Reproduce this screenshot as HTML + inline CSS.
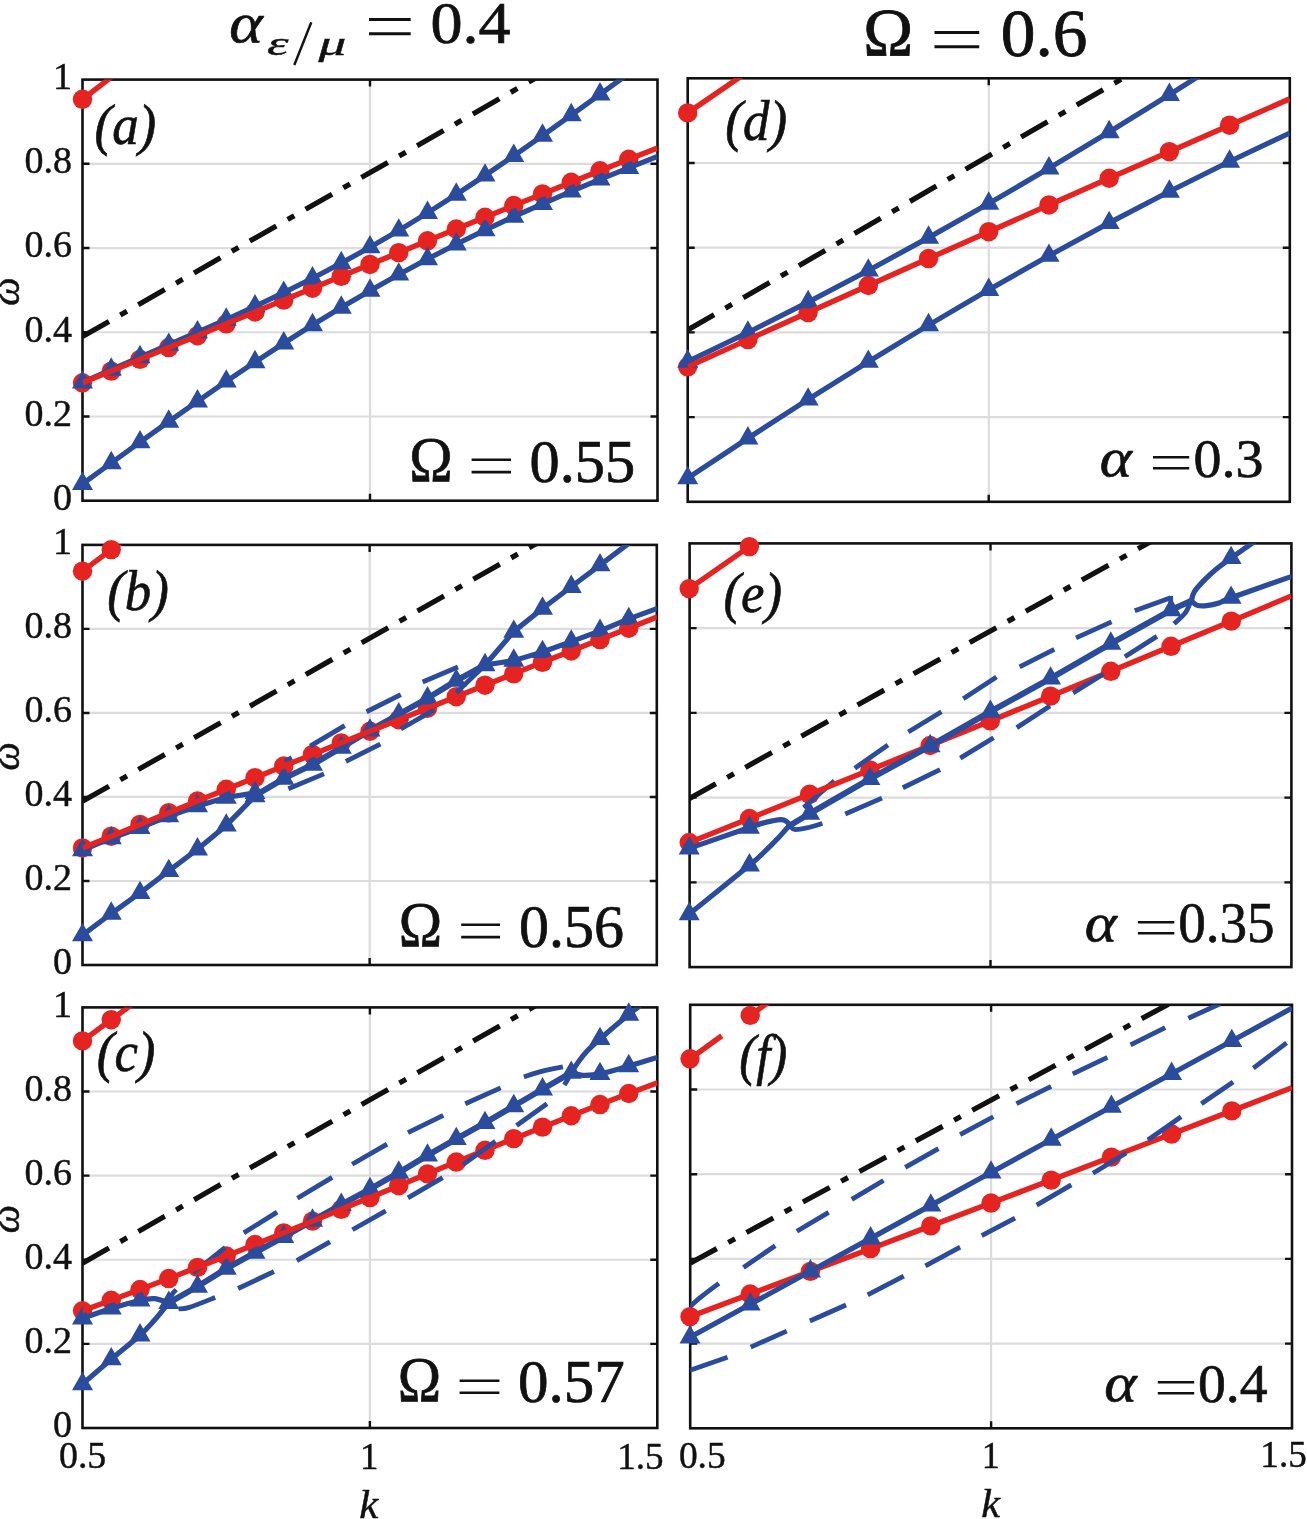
<!DOCTYPE html>
<html lang="en"><head><meta charset="utf-8"><title>Dispersion curves</title>
<style>
html,body{margin:0;padding:0;background:#fff;}
body{width:1307px;height:1519px;overflow:hidden;font-family:"Liberation Serif",serif;}
svg{display:block;}
</style></head><body>
<svg width="1307" height="1519" viewBox="0 0 1307 1519">
<rect width="1307" height="1519" fill="#fff"/>
<defs>
<clipPath id="ca"><rect x="82.5" y="79.6" width="575" height="421.1"/></clipPath>
<clipPath id="cb"><rect x="82.5" y="544.9" width="574.3" height="420.1"/></clipPath>
<clipPath id="cc"><rect x="82.5" y="1007.4" width="574.8" height="420.6"/></clipPath>
<clipPath id="cd"><rect x="687.7" y="78.3" width="602.1" height="423.5"/></clipPath>
<clipPath id="ce"><rect x="689.6" y="543.4" width="601.8" height="423.7"/></clipPath>
<clipPath id="cf"><rect x="690.2" y="1004.8" width="601.8" height="423.5"/></clipPath>
</defs>
<g id="panel-a">
<path d="M82.5 416.48H657.5M82.5 332.26H657.5M82.5 248.04H657.5M82.5 163.82H657.5M370 79.6V500.7" stroke="#dcdcdc" stroke-width="2.2" fill="none"/>
<rect x="82.5" y="79.6" width="575" height="421.1" fill="none" stroke="#111111" stroke-width="2.6"/>
<path d="M82.5 416.48h7M657.5 416.48h-7M82.5 332.26h7M657.5 332.26h-7M82.5 248.04h7M657.5 248.04h-7M82.5 163.82h7M657.5 163.82h-7M370 79.6v7M370 500.7v-7" stroke="#111111" stroke-width="2.4" fill="none"/>
<g clip-path="url(#ca)" fill="none" stroke-linejoin="round">
<path d="M82.5 336.51L542.5 74.23" stroke="#111111" stroke-width="5.2" stroke-dasharray="30.5 13 7.7 13" stroke-dashoffset="0"/>
</g>
<circle cx="82.5" cy="382.82" r="9.7" fill="#e52421"/>
<circle cx="111.25" cy="371.11" r="9.7" fill="#e52421"/>
<circle cx="140" cy="359.35" r="9.7" fill="#e52421"/>
<circle cx="168.75" cy="347.55" r="9.7" fill="#e52421"/>
<circle cx="197.5" cy="335.72" r="9.7" fill="#e52421"/>
<circle cx="226.25" cy="323.86" r="9.7" fill="#e52421"/>
<circle cx="255" cy="311.99" r="9.7" fill="#e52421"/>
<circle cx="283.75" cy="300.11" r="9.7" fill="#e52421"/>
<circle cx="312.5" cy="288.23" r="9.7" fill="#e52421"/>
<circle cx="341.25" cy="276.35" r="9.7" fill="#e52421"/>
<circle cx="370" cy="264.48" r="9.7" fill="#e52421"/>
<circle cx="398.75" cy="252.63" r="9.7" fill="#e52421"/>
<circle cx="427.5" cy="240.8" r="9.7" fill="#e52421"/>
<circle cx="456.25" cy="229.01" r="9.7" fill="#e52421"/>
<circle cx="485" cy="217.25" r="9.7" fill="#e52421"/>
<circle cx="513.75" cy="205.54" r="9.7" fill="#e52421"/>
<circle cx="542.5" cy="193.89" r="9.7" fill="#e52421"/>
<circle cx="571.25" cy="182.29" r="9.7" fill="#e52421"/>
<circle cx="600" cy="170.77" r="9.7" fill="#e52421"/>
<circle cx="628.75" cy="159.31" r="9.7" fill="#e52421"/>
<circle cx="82.5" cy="99.3" r="9.7" fill="#e52421"/>
<g clip-path="url(#ca)" fill="none" stroke="#2b4c9c" stroke-width="5.2" stroke-linejoin="round">
<path d="M82.5 483.85L111.25 463L140 442.22L168.75 421.63L197.5 401.35L226.25 381.47L255 362.09L283.75 343.26L312.5 325.05L341.25 307.5L370 290.64L398.75 274.48L427.5 259.03L456.25 244.27L485 230.18L513.75 216.72L542.5 203.83L571.25 191.44L600 179.47L628.75 167.82L657.5 156.4"/>
<path d="M82.5 382.4L111.25 369.54L140 357.05L168.75 344.69L197.5 332.24L226.25 319.52L255 306.37L283.75 292.65L312.5 278.26L341.25 263.12L370 247.19L398.75 230.44L427.5 212.87L456.25 194.53L485 175.47L513.75 155.78L542.5 135.59L571.25 115.03L600 94.27L628.75 73.53"/>
</g>
<path d="M82.5 471.58L93 489.98L72 489.98ZM111.25 450.73L121.75 469.13L100.75 469.13ZM140 429.95L150.5 448.35L129.5 448.35ZM168.75 409.37L179.25 427.77L158.25 427.77ZM197.5 389.08L208 407.48L187 407.48ZM226.25 369.21L236.75 387.61L215.75 387.61ZM255 349.82L265.5 368.22L244.5 368.22ZM283.75 330.99L294.25 349.39L273.25 349.39ZM312.5 312.78L323 331.18L302 331.18ZM341.25 295.23L351.75 313.63L330.75 313.63ZM370 278.37L380.5 296.77L359.5 296.77ZM398.75 262.21L409.25 280.61L388.25 280.61ZM427.5 246.76L438 265.16L417 265.16ZM456.25 232.01L466.75 250.41L445.75 250.41ZM485 217.91L495.5 236.31L474.5 236.31ZM513.75 204.45L524.25 222.85L503.25 222.85ZM542.5 191.56L553 209.96L532 209.96ZM571.25 179.17L581.75 197.57L560.75 197.57ZM600 167.2L610.5 185.6L589.5 185.6ZM628.75 155.56L639.25 173.96L618.25 173.96ZM82.5 370.13L93 388.53L72 388.53ZM111.25 357.27L121.75 375.67L100.75 375.67ZM140 344.78L150.5 363.18L129.5 363.18ZM168.75 332.42L179.25 350.82L158.25 350.82ZM197.5 319.97L208 338.37L187 338.37ZM226.25 307.25L236.75 325.65L215.75 325.65ZM255 294.1L265.5 312.5L244.5 312.5ZM283.75 280.38L294.25 298.78L273.25 298.78ZM312.5 265.99L323 284.39L302 284.39ZM341.25 250.86L351.75 269.26L330.75 269.26ZM370 234.92L380.5 253.32L359.5 253.32ZM398.75 218.17L409.25 236.57L388.25 236.57ZM427.5 200.61L438 219.01L417 219.01ZM456.25 182.26L466.75 200.66L445.75 200.66ZM485 163.2L495.5 181.6L474.5 181.6ZM513.75 143.52L524.25 161.92L503.25 161.92ZM542.5 123.32L553 141.72L532 141.72ZM571.25 102.76L581.75 121.16L560.75 121.16ZM600 82.01L610.5 100.41L589.5 100.41Z" fill="#2b4c9c"/>
<g clip-path="url(#ca)" fill="none" stroke="#e52421" stroke-width="5.4" stroke-linejoin="round">
<path d="M82.5 382.82L111.25 371.11L140 359.35L168.75 347.55L197.5 335.72L226.25 323.86L255 311.99L283.75 300.11L312.5 288.23L341.25 276.35L370 264.48L398.75 252.63L427.5 240.8L456.25 229.01L485 217.25L513.75 205.54L542.5 193.89L571.25 182.29L600 170.77L628.75 159.31L657.5 147.94"/>
<path d="M82.5 99.3L111.25 77.18"/>
</g>
</g>
<g id="panel-b">
<path d="M82.5 880.98H656.8M82.5 796.96H656.8M82.5 712.94H656.8M82.5 628.92H656.8M369.65 544.9V965" stroke="#dcdcdc" stroke-width="2.2" fill="none"/>
<rect x="82.5" y="544.9" width="574.3" height="420.1" fill="none" stroke="#111111" stroke-width="2.6"/>
<path d="M82.5 880.98h7M656.8 880.98h-7M82.5 796.96h7M656.8 796.96h-7M82.5 712.94h7M656.8 712.94h-7M82.5 628.92h7M656.8 628.92h-7M369.65 544.9v7M369.65 965v-7" stroke="#111111" stroke-width="2.4" fill="none"/>
<g clip-path="url(#cb)" fill="none" stroke-linejoin="round">
<path d="M82.5 801.2L542.5 540.09" stroke="#111111" stroke-width="5.2" stroke-dasharray="30.5 13 7.7 13" stroke-dashoffset="0"/>
</g>
<circle cx="82.5" cy="847.96" r="9.7" fill="#e52421"/>
<circle cx="111.25" cy="836.19" r="9.7" fill="#e52421"/>
<circle cx="140" cy="824.44" r="9.7" fill="#e52421"/>
<circle cx="168.75" cy="812.71" r="9.7" fill="#e52421"/>
<circle cx="197.5" cy="801" r="9.7" fill="#e52421"/>
<circle cx="226.25" cy="789.32" r="9.7" fill="#e52421"/>
<circle cx="255" cy="777.66" r="9.7" fill="#e52421"/>
<circle cx="283.75" cy="766.03" r="9.7" fill="#e52421"/>
<circle cx="312.5" cy="754.42" r="9.7" fill="#e52421"/>
<circle cx="341.25" cy="742.83" r="9.7" fill="#e52421"/>
<circle cx="370" cy="731.26" r="9.7" fill="#e52421"/>
<circle cx="398.75" cy="719.72" r="9.7" fill="#e52421"/>
<circle cx="427.5" cy="708.2" r="9.7" fill="#e52421"/>
<circle cx="456.25" cy="696.7" r="9.7" fill="#e52421"/>
<circle cx="485" cy="685.23" r="9.7" fill="#e52421"/>
<circle cx="513.75" cy="673.78" r="9.7" fill="#e52421"/>
<circle cx="542.5" cy="662.35" r="9.7" fill="#e52421"/>
<circle cx="571.25" cy="650.95" r="9.7" fill="#e52421"/>
<circle cx="600" cy="639.57" r="9.7" fill="#e52421"/>
<circle cx="628.75" cy="628.21" r="9.7" fill="#e52421"/>
<circle cx="82.5" cy="571.21" r="9.7" fill="#e52421"/>
<circle cx="111.25" cy="549.62" r="9.7" fill="#e52421"/>
<g clip-path="url(#cb)" fill="none" stroke="#2b4c9c" stroke-width="4.8">
<path d="M284.9 761.72L291.8 757.69"/>
<path d="M310.2 746.18L344.7 725.6"/>
<path d="M366.55 711.74L400.82 694.52"/>
<path d="M422.61 681.92L457.98 667.01"/>
</g>
<g clip-path="url(#cb)" fill="none" stroke="#2b4c9c" stroke-width="5.2" stroke-linejoin="round">
<path d="M82.5 850.21L111.25 838.2L140 827.79L168.75 816.19L197.5 806.11L226.25 797.5L255 792.88"/>
<path d="M82.5 935.18L111.25 913.51L140 892.97L168.75 870.92L197.5 849.25L226.25 825.39L255 795.99"/>
<path d="M255 795.74L283.75 778.6L312.5 764.66L341.25 747.61L370 730.43L398.75 714.26L427.5 698.3L456.25 680.66L485 664.99" stroke-width="6"/>
<path d="M485 664.99L513.75 631.65L542.5 608.5L571.25 586.75L600 565.16L628.75 543.32"/>
<path d="M485 664.99L513.75 660.63L542.5 651.93L571.25 641.6L600 630.81L628.75 618.92L657.5 608.42"/>
</g>
<path d="M82.5 837.95L93 856.35L72 856.35ZM111.25 825.94L121.75 844.34L100.75 844.34ZM140 815.52L150.5 833.92L129.5 833.92ZM168.75 803.93L179.25 822.33L158.25 822.33ZM197.5 793.85L208 812.25L187 812.25ZM226.25 785.24L236.75 803.64L215.75 803.64ZM255 780.62L265.5 799.02L244.5 799.02ZM82.5 922.91L93 941.31L72 941.31ZM111.25 901.24L121.75 919.64L100.75 919.64ZM140 880.7L150.5 899.1L129.5 899.1ZM168.75 858.65L179.25 877.05L158.25 877.05ZM197.5 836.98L208 855.38L187 855.38ZM226.25 813.13L236.75 831.53L215.75 831.53ZM255 783.73L265.5 802.13L244.5 802.13ZM283.75 766.34L294.25 784.74L273.25 784.74ZM312.5 752.39L323 770.79L302 770.79ZM341.25 735.34L351.75 753.74L330.75 753.74ZM370 718.16L380.5 736.56L359.5 736.56ZM398.75 701.99L409.25 720.39L388.25 720.39ZM427.5 686.03L438 704.43L417 704.43ZM456.25 668.39L466.75 686.79L445.75 686.79ZM485 652.73L495.5 671.13L474.5 671.13ZM513.75 619.38L524.25 637.78L503.25 637.78ZM542.5 596.24L553 614.64L532 614.64ZM571.25 574.48L581.75 592.88L560.75 592.88ZM600 552.89L610.5 571.29L589.5 571.29ZM513.75 648.36L524.25 666.76L503.25 666.76ZM542.5 639.67L553 658.07L532 658.07ZM571.25 629.33L581.75 647.73L560.75 647.73ZM600 618.54L610.5 636.94L589.5 636.94ZM628.75 606.65L639.25 625.05L618.25 625.05Z" fill="#2b4c9c"/>
<g clip-path="url(#cb)" fill="none" stroke="#e52421" stroke-width="5.4" stroke-linejoin="round">
<path d="M82.5 847.96L111.25 836.19L140 824.44L168.75 812.71L197.5 801L226.25 789.32L255 777.66L283.75 766.03L312.5 754.42L341.25 742.83L370 731.26L398.75 719.72L427.5 708.2L456.25 696.7L485 685.23L513.75 673.78L542.5 662.35L571.25 650.95L600 639.57L628.75 628.21L657.5 616.88"/>
<path d="M82.5 571.21L111.25 549.62L140 528.2"/>
</g>
<g clip-path="url(#cb)" fill="none" stroke="#2b4c9c" stroke-width="4.8">
<path d="M288.35 788.68L324 773.9"/>
<path d="M345.85 761.3L380.35 744.08"/>
<path d="M400.82 728.96L434.11 709.85"/>
<path d="M456.25 692.84L485 664.99"/>
</g>
</g>
<g id="panel-c">
<path d="M82.5 1343.88H657.3M82.5 1259.76H657.3M82.5 1175.64H657.3M82.5 1091.52H657.3M369.9 1007.4V1428" stroke="#dcdcdc" stroke-width="2.2" fill="none"/>
<rect x="82.5" y="1007.4" width="574.8" height="420.6" fill="none" stroke="#111111" stroke-width="2.6"/>
<path d="M82.5 1343.88h7M657.3 1343.88h-7M82.5 1259.76h7M657.3 1259.76h-7M82.5 1175.64h7M657.3 1175.64h-7M82.5 1091.52h7M657.3 1091.52h-7M369.9 1007.4v7M369.9 1428v-7" stroke="#111111" stroke-width="2.4" fill="none"/>
<g clip-path="url(#cc)" fill="none" stroke-linejoin="round">
<path d="M82.5 1263.12L542.5 1001.72" stroke="#111111" stroke-width="5.2" stroke-dasharray="30.5 13 7.7 13" stroke-dashoffset="0"/>
</g>
<circle cx="82.5" cy="1310.8" r="9.7" fill="#e52421"/>
<circle cx="111.25" cy="1300.29" r="9.7" fill="#e52421"/>
<circle cx="140" cy="1289.53" r="9.7" fill="#e52421"/>
<circle cx="168.75" cy="1278.55" r="9.7" fill="#e52421"/>
<circle cx="197.5" cy="1267.36" r="9.7" fill="#e52421"/>
<circle cx="226.25" cy="1256" r="9.7" fill="#e52421"/>
<circle cx="255" cy="1244.5" r="9.7" fill="#e52421"/>
<circle cx="283.75" cy="1232.87" r="9.7" fill="#e52421"/>
<circle cx="312.5" cy="1221.15" r="9.7" fill="#e52421"/>
<circle cx="341.25" cy="1209.36" r="9.7" fill="#e52421"/>
<circle cx="370" cy="1197.53" r="9.7" fill="#e52421"/>
<circle cx="398.75" cy="1185.69" r="9.7" fill="#e52421"/>
<circle cx="427.5" cy="1173.85" r="9.7" fill="#e52421"/>
<circle cx="456.25" cy="1162.05" r="9.7" fill="#e52421"/>
<circle cx="485" cy="1150.32" r="9.7" fill="#e52421"/>
<circle cx="513.75" cy="1138.67" r="9.7" fill="#e52421"/>
<circle cx="542.5" cy="1127.14" r="9.7" fill="#e52421"/>
<circle cx="571.25" cy="1115.75" r="9.7" fill="#e52421"/>
<circle cx="600" cy="1104.53" r="9.7" fill="#e52421"/>
<circle cx="628.75" cy="1093.51" r="9.7" fill="#e52421"/>
<circle cx="82.5" cy="1040.88" r="9.7" fill="#e52421"/>
<circle cx="111.25" cy="1019.72" r="9.7" fill="#e52421"/>
<g clip-path="url(#cc)" fill="none" stroke="#2b4c9c" stroke-width="4.8">
<path d="M168.75 1302.87C169.32 1301.43 170.95 1296.46 172.2 1294.25C173.45 1292.04 175.55 1290.39 176.23 1289.62"/>
<path d="M193.19 1272.8L225.33 1247.48"/>
<path d="M243.79 1232.84L277.14 1212.15"/>
<path d="M297.38 1198.31L332.17 1177.41"/>
<path d="M352.18 1164.28L387.08 1144.1"/>
<path d="M407.95 1132.7L443.25 1115.33"/>
<path d="M465.28 1103.72L500.64 1087.82"/>
<path d="M523.81 1076.8C526.93 1075.85 535.98 1072.76 542.5 1071.12C549.02 1069.48 559.51 1067.65 562.91 1066.96"/>
</g>
<g clip-path="url(#cc)" fill="none" stroke="#2b4c9c" stroke-width="5.2" stroke-linejoin="round">
<path d="M82.5 1318.35C87.29 1316.7 101.67 1311.41 111.25 1308.42C120.83 1305.44 132.81 1302.06 140 1300.43C147.19 1298.81 149.58 1298.26 154.38 1298.67C159.17 1299.07 166.35 1302.17 168.75 1302.87"/>
<path d="M82.5 1384.01C87.29 1379.86 101.67 1367.27 111.25 1359.15C120.83 1351.02 132.81 1341.73 140 1335.26C147.19 1328.79 149.58 1325.72 154.38 1320.33C159.17 1314.93 166.35 1305.78 168.75 1302.87"/>
<path d="M168.75 1302.87L197.5 1286.51L226.25 1268.59L255 1252.69L283.75 1236.8L312.5 1220.6L341.25 1204.66L370 1189.02L398.75 1172.53L427.5 1155.45L456.25 1138.92L485 1122.94L513.75 1106.03L542.5 1089.25L571.25 1072.72" stroke-width="6"/>
<path d="M571.25 1072.72C572.51 1070.81 576.16 1064.89 578.84 1061.24C581.52 1057.58 583.82 1054.52 587.35 1050.81C590.88 1047.09 593.1 1044.99 600 1038.94C606.9 1032.9 622.04 1020.09 628.75 1014.55C635.46 1009.01 638.33 1007.19 640.25 1005.72"/>
<path d="M571.25 1072.72C573.17 1073.15 577.96 1075.13 582.75 1075.33C587.54 1075.52 592.33 1075.44 600 1073.9C607.67 1072.35 619.17 1068.83 628.75 1066.07C638.33 1063.32 652.71 1058.82 657.5 1057.37"/>
</g>
<path d="M82.5 1306.08L93 1324.48L72 1324.48ZM111.25 1296.16L121.75 1314.56L100.75 1314.56ZM140 1288.17L150.5 1306.57L129.5 1306.57ZM82.5 1371.74L93 1390.14L72 1390.14ZM111.25 1346.88L121.75 1365.28L100.75 1365.28ZM140 1322.99L150.5 1341.39L129.5 1341.39ZM168.75 1290.6L179.25 1309L158.25 1309ZM197.5 1274.24L208 1292.64L187 1292.64ZM226.25 1256.33L236.75 1274.73L215.75 1274.73ZM255 1240.43L265.5 1258.83L244.5 1258.83ZM283.75 1224.53L294.25 1242.93L273.25 1242.93ZM312.5 1208.34L323 1226.74L302 1226.74ZM341.25 1192.39L351.75 1210.79L330.75 1210.79ZM370 1176.75L380.5 1195.15L359.5 1195.15ZM398.75 1160.26L409.25 1178.66L388.25 1178.66ZM427.5 1143.18L438 1161.58L417 1161.58ZM456.25 1126.65L466.75 1145.05L445.75 1145.05ZM485 1110.67L495.5 1129.07L474.5 1129.07ZM513.75 1093.76L524.25 1112.16L503.25 1112.16ZM542.5 1076.98L553 1095.38L532 1095.38ZM571.25 1060.45L581.75 1078.85L560.75 1078.85ZM600 1026.68L610.5 1045.08L589.5 1045.08ZM628.75 1002.28L639.25 1020.68L618.25 1020.68ZM600 1061.63L610.5 1080.03L589.5 1080.03ZM628.75 1053.81L639.25 1072.21L618.25 1072.21Z" fill="#2b4c9c"/>
<g clip-path="url(#cc)" fill="none" stroke="#e52421" stroke-width="5.4" stroke-linejoin="round">
<path d="M82.5 1310.8L111.25 1300.29L140 1289.53L168.75 1278.55L197.5 1267.36L226.25 1256L255 1244.5L283.75 1232.87L312.5 1221.15L341.25 1209.36L370 1197.53L398.75 1185.69L427.5 1173.85L456.25 1162.05L485 1150.32L513.75 1138.67L542.5 1127.14L571.25 1115.75L600 1104.53L628.75 1093.51L657.5 1082.71"/>
<path d="M82.5 1040.88L111.25 1019.72L140 998.57"/>
</g>
<g clip-path="url(#cc)" fill="none" stroke="#2b4c9c" stroke-width="4.8">
<path d="M178.41 1308.97C180.23 1308.71 183.2 1309.33 189.33 1307.41C195.47 1305.5 210.9 1299.14 215.21 1297.49"/>
<path d="M238.09 1288.49L273.92 1271.58"/>
<path d="M296.8 1260.69L329.98 1241.8"/>
<path d="M352.46 1229.73L385.76 1210.89"/>
<path d="M407.95 1197.89L442.68 1177.62"/>
<path d="M462.98 1164.58L495.46 1141.32"/>
<path d="M516.57 1125.46L546.99 1103.72"/>
<path d="M564.35 1084.92L571.6 1072.72"/>
</g>
</g>
<g id="panel-d">
<path d="M687.7 417.1H1289.8M687.7 332.4H1289.8M687.7 247.7H1289.8M687.7 163H1289.8M988.75 78.3V501.8" stroke="#dcdcdc" stroke-width="2.2" fill="none"/>
<rect x="687.7" y="78.3" width="602.1" height="423.5" fill="none" stroke="#111111" stroke-width="2.6"/>
<path d="M687.7 417.1h7M1289.8 417.1h-7M687.7 332.4h7M1289.8 332.4h-7M687.7 247.7h7M1289.8 247.7h-7M687.7 163h7M1289.8 163h-7M988.75 78.3v7M988.75 501.8v-7" stroke="#111111" stroke-width="2.4" fill="none"/>
<g clip-path="url(#cd)" fill="none" stroke-linejoin="round">
<path d="M687.7 329.93L1139.28 68.79" stroke="#111111" stroke-width="5.2" stroke-dasharray="30.5 13 7.7 13" stroke-dashoffset="0"/>
</g>
<circle cx="687.7" cy="366.83" r="9.7" fill="#e52421"/>
<circle cx="747.91" cy="339.63" r="9.7" fill="#e52421"/>
<circle cx="808.12" cy="312.52" r="9.7" fill="#e52421"/>
<circle cx="868.33" cy="285.49" r="9.7" fill="#e52421"/>
<circle cx="928.54" cy="258.55" r="9.7" fill="#e52421"/>
<circle cx="988.75" cy="231.7" r="9.7" fill="#e52421"/>
<circle cx="1048.96" cy="204.94" r="9.7" fill="#e52421"/>
<circle cx="1109.17" cy="178.26" r="9.7" fill="#e52421"/>
<circle cx="1169.38" cy="151.68" r="9.7" fill="#e52421"/>
<circle cx="1229.59" cy="125.18" r="9.7" fill="#e52421"/>
<circle cx="687.7" cy="112.91" r="9.7" fill="#e52421"/>
<g clip-path="url(#cd)" fill="none" stroke="#2b4c9c" stroke-width="5.2" stroke-linejoin="round">
<path d="M687.7 478.16L747.91 438.27L808.12 399.43L868.33 361.69L928.54 325.12L988.75 289.76L1048.96 255.67L1109.17 222.9L1169.38 191.5L1229.59 161.53L1289.8 133.05"/>
<path d="M687.7 361.54L747.91 332.49L808.12 302.12L868.33 270.47L928.54 237.6L988.75 203.54L1048.96 168.36L1109.17 132.09L1169.38 94.8L1229.59 56.52"/>
</g>
<path d="M687.7 465.9L698.2 484.3L677.2 484.3ZM747.91 426L758.41 444.4L737.41 444.4ZM808.12 387.16L818.62 405.56L797.62 405.56ZM868.33 349.43L878.83 367.83L857.83 367.83ZM928.54 312.85L939.04 331.25L918.04 331.25ZM988.75 277.49L999.25 295.89L978.25 295.89ZM1048.96 243.4L1059.46 261.8L1038.46 261.8ZM1109.17 210.63L1119.67 229.03L1098.67 229.03ZM1169.38 179.23L1179.88 197.63L1158.88 197.63ZM1229.59 149.27L1240.09 167.67L1219.09 167.67ZM687.7 349.27L698.2 367.67L677.2 367.67ZM747.91 320.23L758.41 338.63L737.41 338.63ZM808.12 289.85L818.62 308.25L797.62 308.25ZM868.33 258.21L878.83 276.61L857.83 276.61ZM928.54 225.33L939.04 243.73L918.04 243.73ZM988.75 191.27L999.25 209.67L978.25 209.67ZM1048.96 156.09L1059.46 174.49L1038.46 174.49ZM1109.17 119.83L1119.67 138.23L1098.67 138.23ZM1169.38 82.53L1179.88 100.93L1158.88 100.93Z" fill="#2b4c9c"/>
<g clip-path="url(#cd)" fill="none" stroke="#e52421" stroke-width="5.4" stroke-linejoin="round">
<path d="M687.7 366.83L747.91 339.63L808.12 312.52L868.33 285.49L928.54 258.55L988.75 231.7L1048.96 204.94L1109.17 178.26L1169.38 151.68L1229.59 125.18L1289.8 98.77"/>
<path d="M687.7 112.91L747.91 71.61"/>
</g>
</g>
<g id="panel-e">
<path d="M689.6 882.36H1291.4M689.6 797.62H1291.4M689.6 712.88H1291.4M689.6 628.14H1291.4M990.5 543.4V967.1" stroke="#dcdcdc" stroke-width="2.2" fill="none"/>
<rect x="689.6" y="543.4" width="601.8" height="423.7" fill="none" stroke="#111111" stroke-width="2.6"/>
<path d="M689.6 882.36h7M1291.4 882.36h-7M689.6 797.62h7M1291.4 797.62h-7M689.6 712.88h7M1291.4 712.88h-7M689.6 628.14h7M1291.4 628.14h-7M990.5 543.4v7M990.5 967.1v-7" stroke="#111111" stroke-width="2.4" fill="none"/>
<g clip-path="url(#ce)" fill="none" stroke-linejoin="round">
<path d="M689.2 798.62L1171.04 530.44" stroke="#111111" stroke-width="5.2" stroke-dasharray="30.5 13 7.7 13" stroke-dashoffset="0"/>
</g>
<circle cx="689.2" cy="842.55" r="9.7" fill="#e52421"/>
<circle cx="749.43" cy="818.49" r="9.7" fill="#e52421"/>
<circle cx="809.66" cy="794.29" r="9.7" fill="#e52421"/>
<circle cx="869.89" cy="769.96" r="9.7" fill="#e52421"/>
<circle cx="930.12" cy="745.5" r="9.7" fill="#e52421"/>
<circle cx="990.35" cy="720.9" r="9.7" fill="#e52421"/>
<circle cx="1050.58" cy="696.16" r="9.7" fill="#e52421"/>
<circle cx="1110.81" cy="671.29" r="9.7" fill="#e52421"/>
<circle cx="1171.04" cy="646.29" r="9.7" fill="#e52421"/>
<circle cx="1231.27" cy="621.15" r="9.7" fill="#e52421"/>
<circle cx="689.2" cy="588.61" r="9.7" fill="#e52421"/>
<circle cx="749.43" cy="546.59" r="9.7" fill="#e52421"/>
<g clip-path="url(#ce)" fill="none" stroke="#2b4c9c" stroke-width="4.8">
<path d="M803.64 807.57L834.35 780.78"/>
<path d="M854.83 768.21L887.96 744.99"/>
<path d="M908.26 731.99L941.5 711.68"/>
<path d="M963.25 698.64L996.49 676.89"/>
<path d="M1019.62 666.8L1054.31 649.43"/>
<path d="M1076 637.82L1111.53 621.88"/>
<path d="M1134.78 610.69L1170.74 597.7"/>
<path d="M1170.74 596.01L1170.74 609.89"/>
</g>
<g clip-path="url(#ce)" fill="none" stroke="#e52421" stroke-width="5.4" stroke-linejoin="round">
<path d="M689.2 842.55L749.43 818.49L809.66 794.29L869.89 769.96L930.12 745.5L990.35 720.9L1050.58 696.16L1110.81 671.29L1171.04 646.29L1231.27 621.15L1291.5 595.87"/>
<path d="M689.2 588.61L749.43 546.59L809.66 506.85"/>
</g>
<g clip-path="url(#ce)" fill="none" stroke="#2b4c9c" stroke-width="5.2" stroke-linejoin="round">
<path d="M689.2 848.37C699.24 844.9 736.82 831.81 749.43 827.51C762.04 823.21 759.64 823.92 764.85 822.59C770.06 821.27 777.05 819.73 780.69 819.56C784.33 819.39 785.2 820.59 786.71 821.58C788.23 822.58 789.27 824.88 789.78 825.53"/>
<path d="M689.2 914.07C699.24 905.95 736.82 875.77 749.43 865.32C762.04 854.88 759.97 856.04 764.85 851.4C769.73 846.76 775.06 841.29 778.7 837.48C782.35 833.67 784.87 830.51 786.71 828.52C788.56 826.53 789.27 826.03 789.78 825.53"/>
<path d="M789.78 825.53L809.66 813.59L869.89 778.81L930.12 746L990.35 711.68L1050.58 678.41L1110.81 643.63L1171.04 610.02L1191.34 600.81" stroke-width="6"/>
<path d="M1191.34 600.81C1191.85 599.27 1192.37 594.92 1194.41 591.6C1196.45 588.27 1200 584.57 1203.56 580.87C1207.13 577.17 1211.2 573.2 1215.79 569.39C1220.38 565.58 1225.37 562.11 1231.09 557.99C1236.81 553.88 1245.07 548.32 1250.12 544.7C1255.17 541.08 1259.51 537.69 1261.38 536.29"/>
<path d="M1191.34 600.81C1192.35 601.57 1194.88 604.58 1197.42 605.39C1199.96 606.21 1203 606.07 1206.58 605.69C1210.15 605.3 1214.78 604.41 1218.86 603.08C1222.95 601.75 1219.28 602.03 1231.09 597.7C1242.89 593.36 1278.62 580.98 1289.69 577.09C1300.77 573.19 1296.22 574.77 1297.52 574.31"/>
</g>
<path d="M689.2 836.11L699.7 854.51L678.7 854.51ZM749.43 815.24L759.93 833.64L738.93 833.64ZM689.2 901.8L699.7 920.2L678.7 920.2ZM749.43 853.06L759.93 871.46L738.93 871.46ZM809.66 801.32L820.16 819.72L799.16 819.72ZM869.89 766.54L880.39 784.94L859.39 784.94ZM930.12 733.73L940.62 752.13L919.62 752.13ZM990.35 699.41L1000.85 717.81L979.85 717.81ZM1050.58 666.14L1061.08 684.54L1040.08 684.54ZM1110.81 631.36L1121.31 649.76L1100.31 649.76ZM1171.04 597.75L1181.54 616.15L1160.54 616.15ZM1231.09 545.72L1241.59 564.12L1220.59 564.12ZM1231.09 585.43L1241.59 603.83L1220.59 603.83Z" fill="#2b4c9c"/>
<g clip-path="url(#ce)" fill="none" stroke="#2b4c9c" stroke-width="4.8">
<path d="M789.78 825.53C790.59 826.19 791.79 829.08 794.6 829.49C797.41 829.89 802.01 828.96 806.65 827.97C811.29 826.99 819.8 824.29 822.43 823.56"/>
<path d="M845.26 814.01L881.94 798.11"/>
<path d="M902.84 787.72L940.06 769.59"/>
<path d="M960.24 758.11L993.6 737.8"/>
<path d="M1016.73 727.62L1049.98 705.92"/>
<path d="M1073.11 692.88L1103.46 673.99"/>
<path d="M1124.84 656.66L1156.95 636.39"/>
<path d="M1174.05 623.77C1175.91 621.98 1182.57 616.32 1185.19 613.01C1187.81 609.69 1188.75 605.91 1189.77 603.88C1190.8 601.85 1191.08 601.32 1191.34 600.81"/>
</g>
</g>
<g id="panel-f">
<path d="M690.2 1343.6H1292M690.2 1258.9H1292M690.2 1174.2H1292M690.2 1089.5H1292M991.1 1004.8V1428.3" stroke="#dcdcdc" stroke-width="2.2" fill="none"/>
<rect x="690.2" y="1004.8" width="601.8" height="423.5" fill="none" stroke="#111111" stroke-width="2.6"/>
<path d="M690.2 1343.6h7M1292 1343.6h-7M690.2 1258.9h7M1292 1258.9h-7M690.2 1174.2h7M1292 1174.2h-7M690.2 1089.5h7M1292 1089.5h-7M991.1 1004.8v7M991.1 1428.3v-7" stroke="#111111" stroke-width="2.4" fill="none"/>
<g clip-path="url(#cf)" fill="none" stroke-linejoin="round">
<path d="M690 1263.12L1171.6 1002.44" stroke="#111111" stroke-width="5.2" stroke-dasharray="30.5 13 7.7 13" stroke-dashoffset="0"/>
</g>
<circle cx="690" cy="1316.62" r="9.7" fill="#e52421"/>
<circle cx="750.2" cy="1294.04" r="9.7" fill="#e52421"/>
<circle cx="810.4" cy="1271.39" r="9.7" fill="#e52421"/>
<circle cx="870.6" cy="1248.67" r="9.7" fill="#e52421"/>
<circle cx="930.8" cy="1225.88" r="9.7" fill="#e52421"/>
<circle cx="991" cy="1203.03" r="9.7" fill="#e52421"/>
<circle cx="1051.2" cy="1180.1" r="9.7" fill="#e52421"/>
<circle cx="1111.4" cy="1157.1" r="9.7" fill="#e52421"/>
<circle cx="1171.6" cy="1134.03" r="9.7" fill="#e52421"/>
<circle cx="1231.8" cy="1110.89" r="9.7" fill="#e52421"/>
<circle cx="690" cy="1058.8" r="9.7" fill="#e52421"/>
<circle cx="750.2" cy="1015.39" r="9.7" fill="#e52421"/>
<g clip-path="url(#cf)" fill="none" stroke="#2b4c9c" stroke-width="4.8">
<path d="M690 1306.49C692.01 1304.76 697.22 1300 702.04 1296.14C706.86 1292.28 716.09 1285.45 718.9 1283.31"/>
<path d="M743.46 1267.41L775.24 1245.67"/>
<path d="M796.86 1231.2L828.64 1212.36"/>
<path d="M851.76 1199.32L883.54 1180.52"/>
<path d="M905.22 1167.44L938.45 1148.64"/>
<path d="M960.12 1134.72L993.35 1116.76"/>
<path d="M1016.46 1103.72L1051.14 1086.35"/>
<path d="M1072.75 1073.9L1107.43 1057.41"/>
<path d="M1130.54 1044.92L1165.22 1027.55"/>
<path d="M1188.34 1018.29L1220.12 1003.78"/>
</g>
<g clip-path="url(#cf)" fill="none" stroke="#e52421" stroke-width="5.4" stroke-linejoin="round">
<path d="M690 1316.62L750.2 1294.04L810.4 1271.39L870.6 1248.67L930.8 1225.88L991 1203.03L1051.2 1180.1L1111.4 1157.1L1171.6 1134.03L1231.8 1110.89L1292 1087.69"/>
<path d="M690 1058.8L721.79 1035.71"/>
<path d="M750.2 1015.39L774.28 998.06"/>
</g>
<g clip-path="url(#cf)" fill="none" stroke="#2b4c9c" stroke-width="5.2" stroke-linejoin="round">
<path d="M690 1337.34L750.2 1304.33L810.4 1271.33L870.6 1238.36L930.8 1205.4L991 1172.47L1051.2 1139.55L1111.4 1106.66L1171.6 1073.78L1231.8 1040.92L1292 1008.09"/>
</g>
<path d="M690 1325.07L700.5 1343.47L679.5 1343.47ZM750.2 1292.06L760.7 1310.46L739.7 1310.46ZM810.4 1259.07L820.9 1277.47L799.9 1277.47ZM870.6 1226.09L881.1 1244.49L860.1 1244.49ZM930.8 1193.14L941.3 1211.54L920.3 1211.54ZM991 1160.2L1001.5 1178.6L980.5 1178.6ZM1051.2 1127.29L1061.7 1145.69L1040.7 1145.69ZM1111.4 1094.39L1121.9 1112.79L1100.9 1112.79ZM1171.6 1061.51L1182.1 1079.91L1161.1 1079.91ZM1231.8 1028.66L1242.3 1047.06L1221.3 1047.06Z" fill="#2b4c9c"/>
<g clip-path="url(#cf)" fill="none" stroke="#2b4c9c" stroke-width="4.8">
<path d="M690 1370.25L727.56 1357.21"/>
<path d="M750.68 1347.08L786.74 1331.14"/>
<path d="M809.86 1321L845.98 1305.06"/>
<path d="M867.65 1294.92L903.77 1276.08"/>
<path d="M925.44 1265.94L960.12 1247.14"/>
<path d="M981.73 1235.53L1015.02 1218.16"/>
<path d="M1036.69 1205.12L1071.31 1184.85"/>
<path d="M1092.98 1173.24L1126.21 1152.97"/>
<path d="M1147.88 1139.93L1181.11 1116.76"/>
<path d="M1201.34 1103.72L1233.12 1082.01"/>
<path d="M1253.35 1068.09L1286.58 1042.9"/>
</g>
</g>
<g font-family="'Liberation Serif', serif" fill="#111" stroke="#111" opacity="0.999">
<text x="71.9" y="510" font-size="38" stroke-width="0.46" text-anchor="end">0</text>
<text x="71.9" y="425.78" font-size="38" stroke-width="0.46" text-anchor="end">0.2</text>
<text x="71.9" y="341.56" font-size="38" stroke-width="0.46" text-anchor="end">0.4</text>
<text x="71.9" y="257.34" font-size="38" stroke-width="0.46" text-anchor="end">0.6</text>
<text x="71.9" y="173.12" font-size="38" stroke-width="0.46" text-anchor="end">0.8</text>
<text x="71.9" y="88.9" font-size="38" stroke-width="0.46" text-anchor="end">1</text>
<text x="19.2" y="291.65" font-size="40" stroke-width="0.48" font-style="italic" text-anchor="middle" transform="rotate(-90 19.2 291.65)">&#969;</text>
<text x="71.9" y="974.3" font-size="38" stroke-width="0.46" text-anchor="end">0</text>
<text x="71.9" y="890.28" font-size="38" stroke-width="0.46" text-anchor="end">0.2</text>
<text x="71.9" y="806.26" font-size="38" stroke-width="0.46" text-anchor="end">0.4</text>
<text x="71.9" y="722.24" font-size="38" stroke-width="0.46" text-anchor="end">0.6</text>
<text x="71.9" y="638.22" font-size="38" stroke-width="0.46" text-anchor="end">0.8</text>
<text x="71.9" y="554.2" font-size="38" stroke-width="0.46" text-anchor="end">1</text>
<text x="19.2" y="756.45" font-size="40" stroke-width="0.48" font-style="italic" text-anchor="middle" transform="rotate(-90 19.2 756.45)">&#969;</text>
<text x="71.9" y="1437.3" font-size="38" stroke-width="0.46" text-anchor="end">0</text>
<text x="71.9" y="1353.18" font-size="38" stroke-width="0.46" text-anchor="end">0.2</text>
<text x="71.9" y="1269.06" font-size="38" stroke-width="0.46" text-anchor="end">0.4</text>
<text x="71.9" y="1184.94" font-size="38" stroke-width="0.46" text-anchor="end">0.6</text>
<text x="71.9" y="1100.82" font-size="38" stroke-width="0.46" text-anchor="end">0.8</text>
<text x="71.9" y="1016.7" font-size="38" stroke-width="0.46" text-anchor="end">1</text>
<text x="19.2" y="1219.2" font-size="40" stroke-width="0.48" font-style="italic" text-anchor="middle" transform="rotate(-90 19.2 1219.2)">&#969;</text>
<text x="0" y="0" font-size="37.5" stroke-width="0.45" transform="translate(58.98 1468.40) scale(1.0098 1)">0.5</text>
<text x="0" y="0" font-size="37.5" stroke-width="0.45" transform="translate(359.97 1468.60) scale(0.9835 1)">1</text>
<text x="0" y="0" font-size="37.5" stroke-width="0.45" transform="translate(617.15 1468.60) scale(0.9906 1)">1.5</text>
<text x="0" y="0" font-size="37.5" stroke-width="0.45" transform="translate(678.90 1467.60) scale(0.9984 1)">0.5</text>
<text x="0" y="0" font-size="37.5" stroke-width="0.45" transform="translate(981.82 1467.60) scale(0.9683 1)">1</text>
<text x="0" y="0" font-size="37.5" stroke-width="0.45" transform="translate(1260.35 1467.00) scale(0.9906 1)">1.5</text>
<text x="0" y="0" font-size="39.71" stroke-width="0.48" font-style="italic" transform="translate(359.32 1517.60) scale(1.0779 1)">k</text>
<text x="0" y="0" font-size="39.42" stroke-width="0.47" font-style="italic" transform="translate(981.33 1516.60) scale(1.0739 1)">k</text>
<text x="0" y="0" font-size="56.42" stroke-width="0.68" font-style="italic" transform="translate(94.55 143.61) scale(0.9378 1)">(a)</text>
<text x="0" y="0" font-size="57.3" stroke-width="0.69" font-style="italic" transform="translate(107.25 609.62) scale(0.9202 1)">(b)</text>
<text x="0" y="0" font-size="57.41" stroke-width="0.69" font-style="italic" transform="translate(96.85 1070.70) scale(0.9184 1)">(c)</text>
<text x="0" y="0" font-size="57.52" stroke-width="0.69" font-style="italic" transform="translate(725.35 139.78) scale(0.9198 1)">(d)</text>
<text x="0" y="0" font-size="57.41" stroke-width="0.69" font-style="italic" transform="translate(723.45 611.60) scale(0.9184 1)">(e)</text>
<text x="0" y="0" font-size="56.57" stroke-width="0.68" font-style="italic" transform="translate(739.22 1073.78) scale(0.9005 1)">(f)</text>
<text x="0" y="0" font-size="57.78" stroke-width="0.69" font-style="italic" transform="translate(229.28 41.90) scale(1.1077 1)">&#945;</text>
<text x="0" y="0" font-size="33.62" stroke-width="0.4" font-style="italic" transform="translate(267.11 54.80) scale(1.6211 1)">&#949;</text>
<text x="0" y="0" font-size="34.35" stroke-width="0.41" font-style="italic" transform="translate(318.40 54.80) scale(1.6106 1)">&#956;</text>
<text x="0" y="0" font-size="60.15" stroke-width="0.72" transform="translate(430.39 42.90) scale(1.0662 1)">0.4</text>
<text x="0" y="0" font-size="68.68" stroke-width="0.82" transform="translate(863.27 54.90) scale(0.9783 1)">&#937;</text>
<text x="0" y="0" font-size="66.92" stroke-width="0.8" transform="translate(1000.80 56.20) scale(1.0363 1)">0.6</text>
<text x="0" y="0" font-size="63.09" stroke-width="0.76" transform="translate(409.23 480.70) scale(0.9262 1)">&#937;</text>
<text x="0" y="0" font-size="60.6" stroke-width="0.73" transform="translate(529.44 481.60) scale(0.9965 1)">0.55</text>
<text x="0" y="0" font-size="63.09" stroke-width="0.76" transform="translate(398.83 945.70) scale(0.9262 1)">&#937;</text>
<text x="0" y="0" font-size="61.2" stroke-width="0.73" transform="translate(519.05 946.60) scale(0.9808 1)">0.56</text>
<text x="0" y="0" font-size="63.09" stroke-width="0.76" transform="translate(397.83 1401.10) scale(0.9262 1)">&#937;</text>
<text x="0" y="0" font-size="61.5" stroke-width="0.74" transform="translate(518.01 1402.20) scale(0.9920 1)">0.57</text>
<text x="0" y="0" font-size="55.24" stroke-width="0.66" font-style="italic" transform="translate(1099.86 475.90) scale(1.1092 1)">&#945;</text>
<text x="0" y="0" font-size="55.49" stroke-width="0.67" transform="translate(1193.50 477.20) scale(1.0083 1)">0.3</text>
<text x="0" y="0" font-size="54.81" stroke-width="0.66" font-style="italic" transform="translate(1084.87 940.70) scale(1.1142 1)">&#945;</text>
<text x="0" y="0" font-size="56.09" stroke-width="0.67" transform="translate(1178.13 942.20) scale(0.9818 1)">0.35</text>
<text x="0" y="0" font-size="54.81" stroke-width="0.66" font-style="italic" transform="translate(1104.34 1400.70) scale(1.1284 1)">&#945;</text>
<text x="0" y="0" font-size="55.64" stroke-width="0.67" transform="translate(1198.01 1401.70) scale(1.0011 1)">0.4</text>
</g>
<path d="M369 19.5H410.7" stroke="#111" stroke-width="2.9" fill="none"/>
<path d="M369 33.8H410.7" stroke="#111" stroke-width="2.9" fill="none"/>
<path d="M934.5 32.5H979.2" stroke="#111" stroke-width="3" fill="none"/>
<path d="M934.5 46.8H979.2" stroke="#111" stroke-width="3" fill="none"/>
<path d="M471.6 459.8H511" stroke="#111" stroke-width="2.6" fill="none"/>
<path d="M471.6 472.1H511" stroke="#111" stroke-width="2.6" fill="none"/>
<path d="M461.2 924.8H500" stroke="#111" stroke-width="2.6" fill="none"/>
<path d="M461.2 937.1H500" stroke="#111" stroke-width="2.6" fill="none"/>
<path d="M459.6 1380.8H499.4" stroke="#111" stroke-width="2.6" fill="none"/>
<path d="M459.6 1392.7H499.4" stroke="#111" stroke-width="2.6" fill="none"/>
<path d="M1153 457.2H1189.2" stroke="#111" stroke-width="2.6" fill="none"/>
<path d="M1153 468.3H1189.2" stroke="#111" stroke-width="2.6" fill="none"/>
<path d="M1137.9 922.2H1174.3" stroke="#111" stroke-width="2.6" fill="none"/>
<path d="M1137.9 933.3H1174.3" stroke="#111" stroke-width="2.6" fill="none"/>
<path d="M1157.8 1382.2H1194.2" stroke="#111" stroke-width="2.6" fill="none"/>
<path d="M1157.8 1393.3H1194.2" stroke="#111" stroke-width="2.6" fill="none"/>
<path d="M294.3 65L311.3 22.2" stroke="#111" stroke-width="2.4" fill="none"/>
</svg>
</body></html>
